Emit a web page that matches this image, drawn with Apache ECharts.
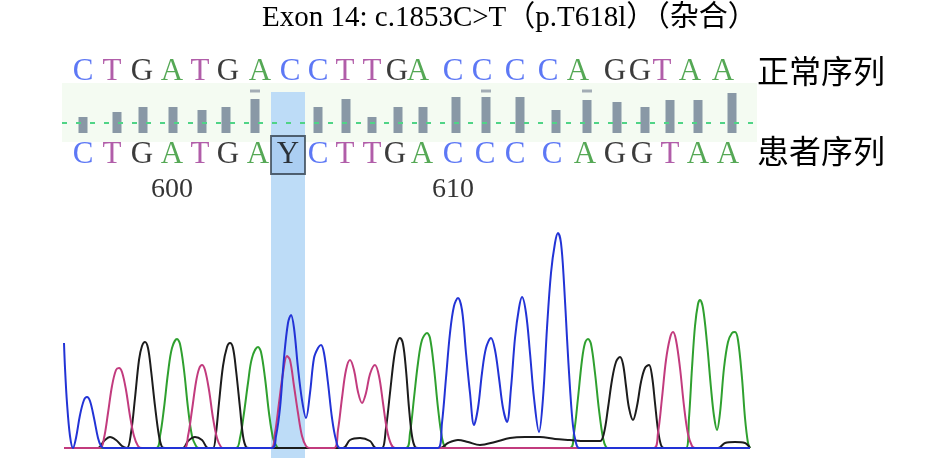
<!DOCTYPE html>
<html><head><meta charset="utf-8">
<script src="https://cdn.jsdelivr.net/npm/echarts@6/dist/echarts.min.js"></script>
<style>html,body{margin:0;padding:0;background:#fff}#c{width:945px;height:458px}</style>
</head><body><div id="c"></div>
<script>
// ---------------- data ----------------
const titleText = 'Exon 14: c.1853C>T（p.T618l）（杂合）';
const rowNames = ['正常序列', '患者序列'];
const refSeq = ['C','T','G','A','T','G','A','C','C','T','T','G','A','C','C','C','C','A','G','G','T','A','A'];
const refPos = [83,112,142,172,200,228,260,290,318,345,372,397,418,453,482,515,548,578,615,640,662,690,723];
const patSeq = ['C','T','G','A','T','G','A','Y','C','T','T','G','A','C','C','C','C','A','G','G','T','A','A'];
const patPos = [83,112,142,172,200,228,258,288,318,345,372,395,422,453,485,515,552,585,615,642,670,698,728];
const variantIdx = 7;
const posLabels = ['600', '610'];
const posLabelIdx = [3, 13];
// quality bars (per base call)
const qualPos = [83,117,143,173,202,226,255,288,318,346,372,398,423,456,486,520,556,587,617,645,670,698,732];
const qualVal = [16,21,26,26,23,26,34,0,26,34,16,26,26,36,36,36,23,33,31,26,33,33,40];
const qualCapIdx = [6, 14, 17];
const qualCapLevel = 42;
// chromatogram traces: [scan, intensity]
const traceC = [[64,105],[65,80],[67,45],[70,12],[73,0],[76,10],[80,33],[84,48],[87,51],[90,47],[94,30],[98,10],[101,2],[104,0],
  [272,0],[276,12],[280,40],[284,90],[288,125],[291,133],[294,120],[298,80],[302,48],[306,30],[310,55],[314,90],[318,100],[321,103],[324,95],[328,65],[332,30],[336,8],[340,0],
  [438,0],[442,25],[446,70],[450,115],[454,142],[458,150],[462,138],[466,95],[470,55],[474,23],[478,40],[482,75],[486,100],[491,110],[495,98],[499,70],[503,40],[507,26],[511,60],[515,110],[519,140],[522,151],[526,135],[530,95],[534,50],[539,16],[543,50],[547,120],[551,175],[555,205],[558,215],[561,205],[564,165],[567,110],[570,60],[573,22],[576,5],[579,0],
  [750,0]];
const traceT = [[64,0],[100,0],[104,10],[108,35],[112,62],[116,78],[119,80],[122,76],[126,58],[130,32],[134,12],[138,2],[142,0],
  [184,0],[188,12],[192,38],[196,66],[199,79],[202,83],[205,78],[209,58],[213,30],[217,10],[221,1],[224,0],
  [271,0],[275,15],[279,45],[283,75],[287,92],[290,88],[294,62],[298,35],[302,12],[306,2],[310,0],
  [334,0],[338,18],[342,50],[346,78],[350,88],[354,78],[358,56],[362,45],[366,55],[370,74],[375,83],[379,72],[383,45],[387,18],[391,4],[395,0],
  [654,0],[658,15],[662,50],[666,88],[670,110],[673,116],[676,108],[680,80],[684,42],[688,14],[692,2],[695,0],
  [750,0]];
const traceG = [[64,0],[98,0],[104,7],[110,11],[116,8],[122,2],[127,0],[131,15],[135,50],[139,88],[142,102],[145,106],[148,100],[151,78],[155,42],[159,12],[162,1],[165,0],
  [183,0],[188,7],[195,11],[202,8],[208,0],[213,0],[216,15],[219,45],[223,82],[227,101],[230,105],[233,100],[236,78],[240,40],[243,12],[246,1],[249,0],
  [343,0],[350,8],[360,10],[370,7],[376,0],[382,0],[386,20],[390,55],[394,90],[397,105],[400,110],[403,104],[406,78],[409,40],[412,12],[415,1],[418,0],
  [440,0],[448,5],[458,8],[468,6],[480,3],[495,6],[510,10],[525,11],[540,11],[555,9],[570,8],[585,7],[600,7],[604,15],[608,40],[612,68],[616,86],[620,91],[623,84],[626,62],[629,40],[633,28],[637,42],[641,66],[645,80],[649,83],[652,72],[655,45],[658,18],[661,3],[664,0],
  [718,0],[725,5],[735,6],[745,5],[750,0]];
const traceA = [[64,0],[156,0],[160,12],[164,40],[168,75],[172,100],[177,109],[180,104],[184,78],[188,40],[192,12],[196,2],[199,0],
  [236,0],[240,10],[244,35],[248,65],[252,90],[258,101],[261,96],[265,70],[269,35],[273,10],[277,1],[280,0],
  [406,0],[410,15],[414,50],[418,85],[422,108],[427,115],[430,110],[434,80],[438,40],[442,10],[445,1],[448,0],
  [570,0],[574,15],[578,50],[582,88],[585,105],[588,109],[591,104],[595,75],[599,38],[603,10],[606,1],[609,0],
  [686,0],[689,30],[692,80],[695,122],[698,144],[700,148],[703,140],[707,105],[711,60],[714,32],[717,18],[720,35],[724,80],[728,106],[732,115],[735,116],[738,108],[742,70],[745,30],[748,5],[750,0]];

// ---------------- style / layout ----------------
const letterColor = {C:'#3556f2', T:'#9e3594', G:'#0a0a0a', A:'#2a922a', Y:'#0a0a0a'};
const traceColor = {A:'#2fa02f', G:'#1c1c1c', T:'#c23b7e', C:'#2233d6'};
const SERIF = '"Liberation Serif", "Times New Roman", serif';
const CJK = '"Noto Sans CJK SC", sans-serif';
const ROW = {ref: 72, pat: 155, pos: 190, band0: 83, band1: 142, dash: 123, hl0: 92, hl1: 458};
const X0 = 60, X1 = 760;

const chart = echarts.init(document.getElementById('c'), null, {renderer: 'canvas'});

function letters(seq, pos, y) {
  return seq.map((ch, i) => ({name: ch, value: [pos[i], y], label: {color: letterColor[ch]}}));
}
function traceSeries(data, color) {
  return {type: 'line', xAxisIndex: 0, yAxisIndex: 0, data, smooth: 0.35, showSymbol: false,
    lineStyle: {color, width: 2}, z: 5, silent: true};
}

const varX = patPos[variantIdx];
const option = {
  animation: false,
  title: {text: titleText, left: 262, top: 0, padding: 0,
    textStyle: {fontFamily: '"Liberation Serif", "Noto Sans CJK SC", serif', fontSize: 29,
      fontWeight: 'normal', color: '#000', lineHeight: 36}},
  grid: [
    {left: X0, right: 945 - X1, top: 220, bottom: 10},
    {left: X0, right: 945 - X1, top: 0, bottom: 0},
    {left: X0, right: 945 - X1, top: 87, bottom: 325}
  ],
  xAxis: [
    {type: 'value', gridIndex: 0, min: X0, max: X1, show: false},
    {type: 'value', gridIndex: 1, min: X0, max: X1, show: false},
    {type: 'value', gridIndex: 2, min: X0, max: X1, show: false}
  ],
  yAxis: [
    {type: 'value', gridIndex: 0, min: 0, max: 228, show: false},
    {type: 'value', gridIndex: 1, min: 0, max: 458, inverse: true, show: false},
    {type: 'value', gridIndex: 2, min: 0, max: 46, show: false}
  ],
  graphic: [
    {type: 'text', left: 757, top: 55, style: {text: rowNames[0], font: '32px ' + CJK, fill: '#000'}},
    {type: 'text', left: 757, top: 135, style: {text: rowNames[1], font: '32px ' + CJK, fill: '#000'}}
  ],
  series: [
    // background annotations
    {type: 'scatter', xAxisIndex: 1, yAxisIndex: 1, data: [], z: 0, silent: true,
      markArea: {silent: true, z: 0, itemStyle: {color: 'rgba(240,249,238,0.75)'},
        data: [[{coord: [X0 + 2, ROW.band0]}, {coord: [757, ROW.band1]}]]}},
    {type: 'scatter', xAxisIndex: 1, yAxisIndex: 1, data: [], z: 1, silent: true,
      markArea: {silent: true, itemStyle: {color: '#bddcf7'},
        data: [[{coord: [varX - 17, ROW.hl0]}, {coord: [varX + 17, ROW.hl1]}]]}},
    // quality bars
    {type: 'bar', xAxisIndex: 2, yAxisIndex: 2, barWidth: 9, z: 2, silent: true,
      itemStyle: {color: '#8998a6'},
      data: qualPos.map((x, i) => [x, qualVal[i]])},
    {type: 'scatter', xAxisIndex: 2, yAxisIndex: 2, symbol: 'rect', symbolSize: [10, 3], z: 2, silent: true,
      itemStyle: {color: '#8e9aa5'},
      data: qualCapIdx.map(i => [qualPos[i], qualCapLevel])},
    // dashed guide line
    {type: 'scatter', xAxisIndex: 1, yAxisIndex: 1, data: [], z: 3, silent: true,
      markLine: {silent: true, symbol: 'none', label: {show: false},
        lineStyle: {color: '#4fd486', width: 2, type: [5, 9]},
        data: [[{coord: [X0 + 2, ROW.dash]}, {coord: [757, ROW.dash]}]]}},
    // Y box
    {type: 'scatter', xAxisIndex: 1, yAxisIndex: 1, symbol: 'rect', symbolSize: [34, 38], z: 3, silent: true,
      itemStyle: {color: '#a6cbf0', borderColor: '#33414d', borderWidth: 2},
      data: [[varX, ROW.pat]]},
    // sequence letters
    {type: 'scatter', xAxisIndex: 1, yAxisIndex: 1, symbol: 'rect', symbolSize: 1, z: 6, silent: true,
      itemStyle: {color: 'rgba(0,0,0,0)'},
      label: {show: true, position: 'inside', formatter: '{b}', fontFamily: SERIF, fontSize: 31},
      data: letters(refSeq, refPos, ROW.ref)},
    {type: 'scatter', xAxisIndex: 1, yAxisIndex: 1, symbol: 'rect', symbolSize: 1, z: 6, silent: true,
      itemStyle: {color: 'rgba(0,0,0,0)'},
      label: {show: true, position: 'inside', formatter: '{b}', fontFamily: SERIF, fontSize: 31},
      data: letters(patSeq, patPos, ROW.pat)},
    {type: 'scatter', xAxisIndex: 1, yAxisIndex: 1, symbol: 'rect', symbolSize: 1, z: 6, silent: true,
      itemStyle: {color: 'rgba(0,0,0,0)'},
      label: {show: true, position: 'inside', formatter: '{b}', fontFamily: SERIF, fontSize: 28, color: '#000'},
      data: posLabels.map((t, i) => ({name: t, value: [patPos[posLabelIdx[i]], ROW.pos]}))},
    // chromatogram
    traceSeries(traceA, traceColor.A),
    traceSeries(traceG, traceColor.G),
    traceSeries(traceT, traceColor.T),
    traceSeries(traceC, traceColor.C)
  ]
};
chart.setOption(option);
</script>
</body></html>
